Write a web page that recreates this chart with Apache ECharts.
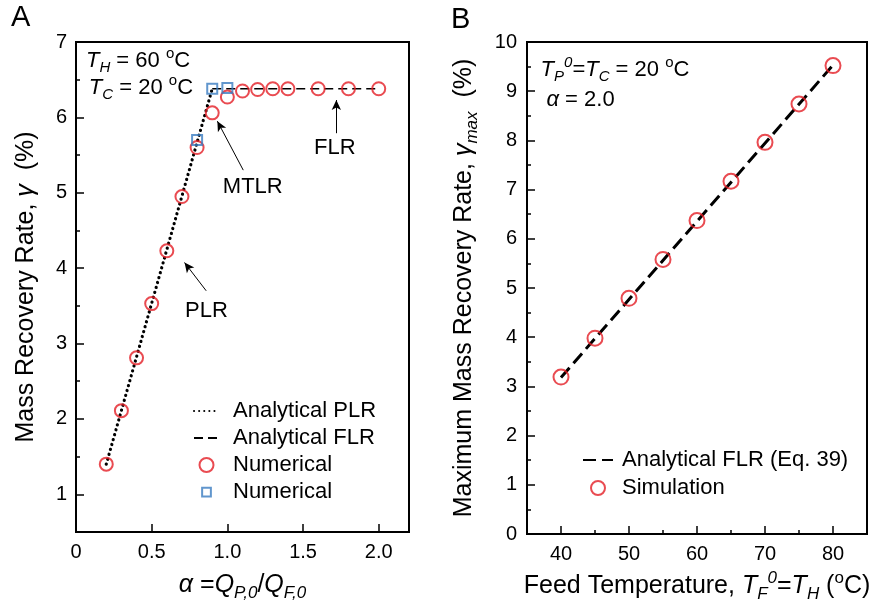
<!DOCTYPE html>
<html><head><meta charset="utf-8">
<script src="https://cdn.jsdelivr.net/npm/echarts@6/dist/echarts.min.js"></script>
<style>html,body{margin:0;padding:0;background:#fff}#c{width:873px;height:615px}</style>
</head><body><div id="c"></div><script>
// ---- Panel A data ----
const alphaNum = [0.2,0.3,0.4,0.5,0.6,0.7,0.8,0.9,1.0,1.1,1.2,1.3,1.4,1.6,1.8,2.0];
const gammaNum = [1.40,2.11,2.81,3.53,4.23,4.95,5.60,6.06,6.27,6.35,6.37,6.38,6.38,6.38,6.38,6.38];
const alphaSq = [0.8,0.9,1.0];
const gammaSq = [5.70,6.38,6.39];
const plrAlpha = [0.2,0.9];
const plrGamma = [1.40,6.38];
const flrAlpha = [0.9,2.0];
const flrGamma = [6.38,6.38];
const xLabelsA = [0,0.5,1.0,1.5,2.0];
const yLabelsA = [1,2,3,4,5,6,7];
const yMinorA = [1.5,2.5,3.5,4.5,5.5,6.5];
// ---- Panel B data ----
const feedT = [40,45,50,55,60,65,70,75,80];
const gammaMaxSim = [3.19,3.98,4.79,5.58,6.37,7.17,7.96,8.74,9.52];
const flrT = [40,80];
const flrGammaMax = [3.18,9.53];
const xLabelsB = [40,50,60,70,80];
const xMinorB = [45,55,65,75];
const yLabelsB = [0,1,2,3,4,5,6,7,8,9,10];
const yMinorB = [0.5,1.5,2.5,3.5,4.5,5.5,6.5,7.5,8.5,9.5];
// ---- annotations (data coords) ----
const arrowPLR = [[0.86,3.70],[0.717,4.075]];
const arrowMTLR = [[1.105,5.30],[0.934,5.95]];
const arrowFLR = [[1.72,5.79],[1.72,6.23]];
const posPLR = [0.862,3.43];
const posMTLR = [1.168,5.08];
const posFLR = [1.71,5.60];
const posTH = [0.066,6.75];
const posTC = [0.085,6.39];
const posTP = [37.0,9.43];
const posAlpha = [37.86,8.82];

const FONT = '"Liberation Sans", Arial, Helvetica, sans-serif';
const RED = '#e41e25', BLUE = '#3a7cc0';
const NOFILL = 'rgba(255,255,255,0)';
const zip = (a,b) => a.map((v,i)=>[v,b[i]]);

function rich(size){
  const s = Math.round(size*0.66), L = Math.round(size*1.3);
  const base = {fontFamily:FONT, color:'#000'};
  return {
    n:   Object.assign({fontSize:size, lineHeight:L}, base),
    i:   Object.assign({fontSize:size, lineHeight:L, fontStyle:'italic'}, base),
    sub: Object.assign({fontSize:s, lineHeight:s, fontStyle:'italic', verticalAlign:'bottom'}, base),
    sup: Object.assign({fontSize:s, lineHeight:s, fontStyle:'italic', verticalAlign:'top'}, base),
    deg: Object.assign({fontSize:s, lineHeight:s, verticalAlign:'top'}, base)
  };
}
const tickStyle = {color:'#000', width:1.5};
const axisLineStyle = {show:true, lineStyle:{color:'#000', width:2}};
const labelStyle = {color:'#000', fontSize:20, fontFamily:FONT};
const hiddenSymbol = {color:NOFILL, borderColor:NOFILL, borderWidth:0};

function textPoint(coord, text, size, align){
  return {coord:coord, symbolSize:0, label:{show:true, position: align==='left'?'right':'inside', distance:0,
    formatter:text, fontSize:size, fontFamily:FONT, color:'#000', lineHeight:Math.round(size*1.3), rich:rich(size)}};
}

const chart = echarts.init(document.getElementById('c'), null, {renderer:'canvas'});
chart.setOption({
  animation:false,
  backgroundColor:'#fff',
  title:[
    {text:'A', left:11, top:3, padding:0, textStyle:{fontSize:29, fontWeight:'normal', fontFamily:FONT, color:'#000'}},
    {text:'B', left:451, top:5, padding:0, textStyle:{fontSize:29, fontWeight:'normal', fontFamily:FONT, color:'#000'}}
  ],
  grid:[
    {left:76, top:42, right:464, bottom:83, show:true, borderColor:'#000', borderWidth:2, backgroundColor:'transparent', containLabel:false, outerBoundsMode:'none'},
    {left:527, top:42, right:6, bottom:81, show:true, borderColor:'#000', borderWidth:2, backgroundColor:'transparent', containLabel:false, outerBoundsMode:'none'}
  ],
  xAxis:[
    {gridIndex:0, type:'value', min:0, max:2.2, axisLine:axisLineStyle,
     axisTick:{show:true, inside:true, length:8, lineStyle:tickStyle, customValues:[0.5,1.0,1.5,2.0]},
     axisLabel:Object.assign({customValues:xLabelsA, margin:10, formatter:v=> v===0?'0':v.toFixed(1)}, labelStyle),
     splitLine:{show:false},
     name:'{i|α} ={i|Q}{sub|P,0}/{i|Q}{sub|F,0}', nameLocation:'middle', nameGap:37,
     nameTextStyle:{fontSize:25, fontFamily:FONT, color:'#000', lineHeight:33, rich:rich(25)}},
    {gridIndex:1, type:'value', min:35, max:85, axisLine:axisLineStyle,
     axisTick:{show:true, inside:true, length:8, lineStyle:tickStyle, customValues:xLabelsB},
     axisLabel:Object.assign({customValues:xLabelsB, margin:10}, labelStyle),
     splitLine:{show:false},
     name:'Feed Temperature, {i|T}{sub|F}{sup|0}={i|T}{sub|H} ({deg|o}C)', nameLocation:'middle', nameGap:36,
     nameTextStyle:{fontSize:25, fontFamily:FONT, color:'#000', lineHeight:33, rich:rich(25)}},
    {gridIndex:1, type:'value', min:35, max:85, position:'bottom', axisLine:{show:false},
     axisTick:{show:true, inside:true, length:4, lineStyle:tickStyle, customValues:xMinorB},
     axisLabel:{show:false}, splitLine:{show:false}}
  ],
  yAxis:[
    {gridIndex:0, type:'value', min:0.5, max:7, position:'left', axisLine:axisLineStyle,
     axisTick:{show:true, inside:true, length:8, lineStyle:tickStyle, customValues:yLabelsA},
     axisLabel:Object.assign({customValues:yLabelsA, margin:9}, labelStyle),
     splitLine:{show:false},
     name:'Mass Recovery Rate, {i|γ}  (%)', nameLocation:'middle', nameGap:33,
     nameTextStyle:{fontSize:25, fontFamily:FONT, color:'#000', lineHeight:33, rich:rich(25)}},
    {gridIndex:0, type:'value', min:0.5, max:7, position:'left', offset:0, axisLine:{show:false},
     axisTick:{show:true, inside:true, length:4, lineStyle:tickStyle, customValues:yMinorA},
     axisLabel:{show:false}, splitLine:{show:false}},
    {gridIndex:1, type:'value', min:0, max:10, position:'left', axisLine:axisLineStyle,
     axisTick:{show:true, inside:true, length:8, lineStyle:tickStyle, customValues:yLabelsB},
     axisLabel:Object.assign({customValues:yLabelsB, margin:10}, labelStyle),
     splitLine:{show:false},
     name:'Maximum Mass Recovery Rate, {i|γ}{sub|max}  (%)', nameLocation:'middle', nameGap:46,
     nameTextStyle:{fontSize:25, fontFamily:FONT, color:'#000', lineHeight:33, rich:rich(25)}},
    {gridIndex:1, type:'value', min:0, max:10, position:'left', offset:0, axisLine:{show:false},
     axisTick:{show:true, inside:true, length:4, lineStyle:tickStyle, customValues:yMinorB},
     axisLabel:{show:false}, splitLine:{show:false}}
  ],
  legend:[
    {data:[
       {name:'Analytical PLR', itemStyle:hiddenSymbol},
       {name:'Analytical FLR', itemStyle:hiddenSymbol},
       {name:'Numerical'},
       {name:'Numerical ', icon:'path://M0,0L0,0M3,3L13,3L13,13L3,13ZM16,16L16,16'}],
     orient:'vertical', left:193, top:400,
     itemWidth:25, itemHeight:14, itemGap:5, selectedMode:false, padding:0,
     textStyle:{fontSize:22, fontFamily:FONT, color:'#000', padding:[0,0,0,9]}},
    {data:[{name:'Analytical FLR (Eq. 39)', itemStyle:hiddenSymbol}, {name:'Simulation'}],
     orient:'vertical', left:582, top:449,
     itemWidth:30, itemHeight:14, itemGap:6, selectedMode:false, padding:0,
     textStyle:{fontSize:22, fontFamily:FONT, color:'#000', padding:[0,0,0,4]}}
  ],
  series:[
    {name:'Analytical PLR', type:'line', xAxisIndex:0, yAxisIndex:0, data:zip(plrAlpha,plrGamma), symbol:'none',
     lineStyle:{color:'#000', width:3.2, type:[0.1,5], cap:'round'}, itemStyle:hiddenSymbol, z:2},
    {name:'Analytical FLR', type:'line', xAxisIndex:0, yAxisIndex:0, data:zip(flrAlpha,flrGamma), symbol:'none',
     lineStyle:{color:'#000', width:1.6, type:[9,5]}, itemStyle:hiddenSymbol, z:2},
    {name:'Numerical', type:'scatter', xAxisIndex:0, yAxisIndex:0, data:zip(alphaNum,gammaNum), symbol:'circle', symbolSize:13,
     itemStyle:{color:NOFILL, borderColor:RED, borderWidth:2}, z:3},
    {name:'Numerical ', type:'scatter', xAxisIndex:0, yAxisIndex:0, data:zip(alphaSq,gammaSq), symbol:'rect', symbolSize:10,
     itemStyle:{color:NOFILL, borderColor:BLUE, borderWidth:2}, z:4},
    {name:'Analytical FLR (Eq. 39)', type:'line', xAxisIndex:1, yAxisIndex:2, data:zip(flrT,flrGammaMax), symbol:'none',
     lineStyle:{color:'#000', width:3, type:[13,6]}, itemStyle:hiddenSymbol, z:2},
    {name:'Simulation', type:'scatter', xAxisIndex:1, yAxisIndex:2, data:zip(feedT,gammaMaxSim), symbol:'circle', symbolSize:15,
     itemStyle:{color:NOFILL, borderColor:RED, borderWidth:2}, z:3},
    {name:'annoA', type:'line', xAxisIndex:0, yAxisIndex:0, data:[], silent:true,
     markLine:{silent:true, symbol:['none','arrow'], symbolSize:[7,10], animation:false,
       lineStyle:{color:'#000', width:1, type:'solid'}, label:{show:false},
       data:[arrowPLR, arrowMTLR, arrowFLR].map(a=>[{coord:a[0]},{coord:a[1]}])},
     markPoint:{silent:true, animation:false, data:[
       textPoint(posPLR,'PLR',22), textPoint(posMTLR,'MTLR',22), textPoint(posFLR,'FLR',22),
       textPoint(posTH,'{i|T}{sub|H} = 60 {deg|o}C',22,'left'),
       textPoint(posTC,'{i|T}{sub|C} = 20 {deg|o}C',22,'left')]}},
    {name:'annoB', type:'line', xAxisIndex:1, yAxisIndex:2, data:[], silent:true,
     markPoint:{silent:true, animation:false, data:[
       textPoint(posTP,'{i|T}{sub|P}{sup|0}={i|T}{sub|C} = 20 {deg|o}C',22,'left'),
       textPoint(posAlpha,'{i|α} = 2.0',22,'left')]}}
  ]
});
</script></body></html>
